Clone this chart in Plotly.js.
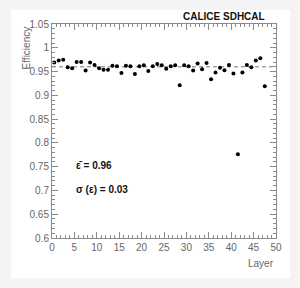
<!DOCTYPE html>
<html><head><meta charset="utf-8">
<script src="https://cdn.plot.ly/plotly-3.0.1.min.js"></script>
<style>html,body{margin:0;padding:0;background:#f4f4f4}#chart{width:300px;height:288px}</style>
</head><body><div id="chart"></div>
<script>
const layers = [0.5,1.5,2.5,3.5,4.5,5.5,6.5,7.5,8.5,9.5,10.5,11.5,12.5,13.5,14.5,15.5,16.5,17.5,18.5,19.5,20.5,21.5,22.5,23.5,24.5,25.5,26.5,27.5,28.5,29.5,30.5,31.5,32.5,33.5,34.5,35.5,36.5,37.5,38.5,39.5,40.5,41.5,42.5,43.5,44.5,45.5,46.5,47.5];
const efficiency = [0.969,0.973,0.975,0.959,0.957,0.970,0.970,0.952,0.969,0.964,0.957,0.954,0.954,0.962,0.961,0.947,0.962,0.961,0.945,0.961,0.963,0.951,0.961,0.966,0.963,0.956,0.961,0.963,0.921,0.963,0.961,0.952,0.967,0.955,0.968,0.934,0.948,0.958,0.953,0.964,0.946,0.776,0.948,0.964,0.959,0.973,0.978,0.919];
const meanLineX = [0, 50];
const meanLineY = [0.96, 0.96];
const meanText = "ε\u0304 = 0.96";
const sigmaText = "σ (ε) = 0.03";
const titleText = "CALICE SDHCAL";

const gray = '#8a8a8a';
const tickFont = {family: 'Liberation Sans, Arial, sans-serif', size: 10, color: '#666'};

const traces = [
  {x: meanLineX, y: meanLineY, type: 'scatter', mode: 'lines',
   line: {color: '#777', width: 1, dash: '4px,3px'}, hoverinfo: 'skip'},
  {x: layers, y: efficiency, type: 'scatter', mode: 'markers',
   marker: {color: '#000', size: 4}}
];

const layout = {
  width: 300, height: 288,
  margin: {l: 52, r: 24, t: 24, b: 50},
  paper_bgcolor: '#f4f4f4', plot_bgcolor: '#fff',
  showlegend: false,
  font: tickFont,
  shapes: [{type: 'rect', xref: 'paper', yref: 'paper', x0: -0.183, x1: 1.0625, y0: -0.187, y1: 1.065,
            fillcolor: '#fff', line: {width: 0}, layer: 'below'}],
  xaxis: {range: [0, 50], tick0: 0, dtick: 5, ticks: 'inside', ticklen: 6, tickcolor: gray,
          showline: true, linecolor: gray, linewidth: 1, mirror: 'ticks', showgrid: false, zeroline: false,
          tickfont: tickFont,
          minor: {dtick: 1, ticks: 'inside', ticklen: 3, tickcolor: gray, showgrid: false}},
  yaxis: {range: [0.6, 1.05], tick0: 0.6, dtick: 0.05, ticks: 'inside', ticklen: 6, tickcolor: gray,
          showline: true, linecolor: gray, linewidth: 1, mirror: 'ticks', showgrid: false, zeroline: false,
          tickfont: tickFont,
          minor: {dtick: 0.01, ticks: 'inside', ticklen: 3, tickcolor: gray, showgrid: false}},
  annotations: [
    {text: titleText, xref: 'paper', yref: 'paper', x: 0.962, y: 1.0, xanchor: 'right', yanchor: 'bottom',
     showarrow: false, font: {family: 'Liberation Sans, Arial, sans-serif', size: 10, color: '#111', weight: 'bold'}},
    {text: 'Efficiency', xref: 'paper', yref: 'paper', x: -0.112, y: 1.0, xanchor: 'center', yanchor: 'top',
     textangle: -90, showarrow: false, font: tickFont},
    {text: 'Layer', xref: 'paper', yref: 'paper', x: 1.0, y: -0.085, xanchor: 'right', yanchor: 'top',
     showarrow: false, font: tickFont},
    {text: '<b>' + meanText + '</b>', xref: 'paper', yref: 'paper', x: 0.098, y: 0.34, xanchor: 'left', yanchor: 'middle',
     showarrow: false, font: {family: 'Liberation Sans, Arial, sans-serif', size: 10, color: '#111'}},
    {text: '<b>' + sigmaText + '</b>', xref: 'paper', yref: 'paper', x: 0.098, y: 0.228, xanchor: 'left', yanchor: 'middle',
     showarrow: false, font: {family: 'Liberation Sans, Arial, sans-serif', size: 10, color: '#111'}}
  ]
};
Plotly.newPlot('chart', traces, layout, {staticPlot: true, displayModeBar: false});
</script></body></html>
